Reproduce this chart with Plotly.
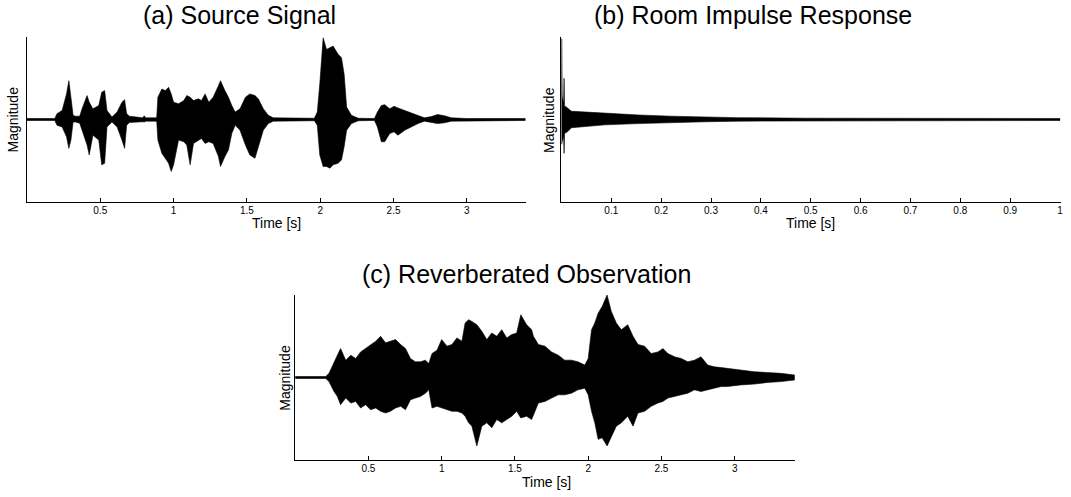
import plotly.graph_objects as go

# ---------------- data (envelopes) ----------------
# (a) Source signal: time [s], upper / lower envelope of the waveform
src_t = [0, 0.19, 0.205, 0.24, 0.27, 0.286, 0.30, 0.315, 0.33, 0.36, 0.376, 0.41, 0.425, 0.45,
         0.49, 0.51, 0.53, 0.546, 0.58, 0.615, 0.648, 0.666, 0.68, 0.70, 0.79, 0.80, 0.81, 0.885,
         0.893, 0.92, 0.943, 0.966, 0.984, 1.0, 1.034, 1.07, 1.09, 1.113, 1.136, 1.17, 1.19, 1.215,
         1.24, 1.27, 1.306, 1.32, 1.35, 1.374, 1.397, 1.42, 1.453, 1.49, 1.52, 1.555, 1.578, 1.612,
         1.646, 1.68, 1.96, 1.98, 1.997, 2.02, 2.043, 2.066, 2.088, 2.122, 2.145, 2.163, 2.18, 2.213,
         2.26, 2.37, 2.39, 2.417, 2.44, 2.474, 2.503, 2.53, 2.576, 2.62, 2.667, 2.71, 2.758, 2.8,
         2.848, 2.894, 3.0, 3.4]
src_up = [0.012, 0.012, 0.07, 0.11, 0.31, 0.47, 0.27, 0.05, 0.04, 0.04, 0.13, 0.29, 0.21, 0.13,
          0.17, 0.33, 0.35, 0.11, 0.03, 0.09, 0.21, 0.24, 0.07, 0.04, 0.02, 0.045, 0.02, 0.02,
          0.27, 0.37, 0.35, 0.39, 0.31, 0.21, 0.19, 0.23, 0.29, 0.27, 0.23, 0.25, 0.23, 0.31,
          0.21, 0.27, 0.41, 0.47, 0.35, 0.27, 0.17, 0.09, 0.13, 0.27, 0.31, 0.29, 0.25, 0.13,
          0.05, 0.02, 0.015, 0.09, 0.43, 0.99, 0.85, 0.87, 0.89, 0.79, 0.75, 0.55, 0.15, 0.05,
          0.015, 0.012, 0.09, 0.17, 0.18, 0.13, 0.16, 0.14, 0.11, 0.08, 0.05, 0.02, 0.035, 0.06,
          0.045, 0.02, 0.012, 0.012]
src_lo = [-0.012, -0.012, -0.07, -0.09, -0.21, -0.35, -0.25, -0.03, -0.03, -0.045, -0.13, -0.31, -0.43, -0.19,
          -0.25, -0.55, -0.53, -0.09, -0.03, -0.09, -0.25, -0.35, -0.07, -0.035, -0.028, -0.03, -0.02, -0.02,
          -0.25, -0.41, -0.47, -0.53, -0.63, -0.55, -0.25, -0.27, -0.31, -0.55, -0.29, -0.25, -0.23, -0.29,
          -0.27, -0.29, -0.45, -0.57, -0.45, -0.37, -0.17, -0.07, -0.13, -0.31, -0.43, -0.47, -0.35, -0.13,
          -0.05, -0.02, -0.015, -0.07, -0.43, -0.57, -0.57, -0.59, -0.55, -0.53, -0.49, -0.33, -0.13, -0.05,
          -0.015, -0.012, -0.09, -0.27, -0.27, -0.17, -0.15, -0.19, -0.13, -0.09, -0.05, -0.02, -0.035, -0.05,
          -0.04, -0.02, -0.012, -0.012]

# (b) Room impulse response
rir_t = [0, 0.0005, 0.0015, 0.002, 0.0045, 0.0053, 0.0062, 0.008, 0.012, 0.017, 0.02, 0.05, 0.087,
         0.154, 0.22, 0.287, 0.354, 0.49, 0.6, 0.72, 1.0]
rir_up = [0.0, 0.98, 0.3, 0.26, 0.2, 0.5, 0.15, 0.16, 0.14, 0.12, 0.1, 0.09, 0.075,
          0.055, 0.04, 0.03, 0.022, 0.016, 0.014, 0.012, 0.012]
rir_lo = [0.0, -0.3, -0.26, -0.26, -0.2, -0.41, -0.18, -0.16, -0.15, -0.12, -0.1, -0.085, -0.065,
          -0.05, -0.037, -0.028, -0.02, -0.016, -0.014, -0.012, -0.012]

# (c) Reverberated observation
obs_t = [0, 0.209, 0.231, 0.265, 0.288, 0.31, 0.345, 0.38, 0.413, 0.447, 0.48, 0.515, 0.55, 0.583,
         0.617, 0.65, 0.685, 0.72, 0.753, 0.787, 0.82, 0.855, 0.889, 0.912, 0.934, 0.968, 1.0, 1.036,
         1.07, 1.104, 1.138, 1.16, 1.184, 1.206, 1.24, 1.274, 1.308, 1.342, 1.376, 1.41, 1.444, 1.478,
         1.512, 1.54, 1.58, 1.614, 1.626, 1.66, 1.705, 1.75, 1.796, 1.84, 1.886, 1.93, 1.977, 2.0,
         2.023, 2.045, 2.068, 2.095, 2.129, 2.158, 2.192, 2.226, 2.27, 2.306, 2.34, 2.385, 2.43, 2.476,
         2.51, 2.544, 2.59, 2.635, 2.68, 2.725, 2.77, 2.816, 2.86, 2.907, 2.95, 3.04, 3.133, 3.224,
         3.315, 3.41]
obs_up = [0.012, 0.012, 0.05, 0.17, 0.27, 0.35, 0.21, 0.27, 0.23, 0.31, 0.35, 0.40, 0.44, 0.50,
          0.42, 0.44, 0.46, 0.40, 0.35, 0.23, 0.19, 0.19, 0.21, 0.17, 0.29, 0.33, 0.46, 0.38,
          0.40, 0.48, 0.44, 0.66, 0.70, 0.68, 0.64, 0.56, 0.46, 0.54, 0.50, 0.58, 0.48, 0.52,
          0.54, 0.76, 0.64, 0.58, 0.50, 0.40, 0.38, 0.31, 0.27, 0.21, 0.21, 0.19, 0.15, 0.23,
          0.58, 0.66, 0.78, 0.86, 1.0, 0.80, 0.66, 0.58, 0.64, 0.50, 0.40, 0.38, 0.29, 0.31,
          0.35, 0.29, 0.25, 0.23, 0.19, 0.21, 0.25, 0.15, 0.13, 0.12, 0.11, 0.09, 0.07, 0.06,
          0.05, 0.03]
obs_lo = [-0.012, -0.012, -0.05, -0.17, -0.23, -0.33, -0.25, -0.31, -0.29, -0.37, -0.33, -0.39, -0.37, -0.41,
          -0.43, -0.41, -0.37, -0.35, -0.39, -0.27, -0.25, -0.23, -0.19, -0.15, -0.37, -0.35, -0.37, -0.39,
          -0.41, -0.41, -0.43, -0.47, -0.55, -0.59, -0.83, -0.59, -0.55, -0.61, -0.51, -0.55, -0.51, -0.47,
          -0.41, -0.49, -0.47, -0.51, -0.47, -0.31, -0.29, -0.25, -0.21, -0.21, -0.19, -0.15, -0.13, -0.21,
          -0.41, -0.55, -0.75, -0.73, -0.83, -0.71, -0.59, -0.55, -0.47, -0.59, -0.43, -0.41, -0.35, -0.31,
          -0.29, -0.25, -0.23, -0.21, -0.19, -0.15, -0.17, -0.15, -0.13, -0.11, -0.11, -0.09, -0.08, -0.06,
          -0.05, -0.03]

tick_ac = [0.5, 1, 1.5, 2, 2.5, 3]
tick_ac_text = ["0.5", "1", "1.5", "2", "2.5", "3"]
tick_b = [0.1, 0.2, 0.3, 0.4, 0.5, 0.6, 0.7, 0.8, 0.9, 1]
tick_b_text = ["0.1", "0.2", "0.3", "0.4", "0.5", "0.6", "0.7", "0.8", "0.9", "1"]

titles = ["(a) Source Signal", "(b) Room Impulse Response", "(c) Reverberated Observation"]

# ---------------- figure ----------------
W, H = 1071, 497
FONT = "Liberation Sans, Arial, Helvetica, sans-serif"


def px_x(v):
    return v / W


def px_y(v):
    return 1 - v / H


def env_trace(t, up, lo, xa, ya):
    xs = list(t) + list(reversed(t))
    ys = list(up) + list(reversed(lo))
    return go.Scatter(x=xs, y=ys, xaxis=xa, yaxis=ya, mode="lines", fill="toself",
                      fillcolor="black", line=dict(color="black", width=0.6),
                      hoverinfo="skip", showlegend=False)


fig = go.Figure()
fig.add_trace(env_trace(src_t, src_up, src_lo, "x", "y"))
fig.add_trace(env_trace(rir_t, rir_up, rir_lo, "x2", "y2"))
fig.add_trace(env_trace(obs_t, obs_up, obs_lo, "x3", "y3"))

xcommon = dict(showline=True, linecolor="black", linewidth=1, ticks="inside", ticklen=4,
               tickcolor="black", tickwidth=1, showgrid=False, zeroline=False,
               tickfont=dict(family=FONT, size=10, color="black"), ticklabelstandoff=-1)
ycommon = dict(showline=True, linecolor="black", linewidth=1, showticklabels=False,
               ticks="", showgrid=False, zeroline=False, range=[-1, 1])

fig.update_layout(
    width=W, height=H, margin=dict(l=0, r=0, t=0, b=0),
    paper_bgcolor="white", plot_bgcolor="white", showlegend=False,
    xaxis=dict(xcommon, domain=[px_x(27), px_x(527)], range=[0, 3.4], anchor="y",
               tickvals=tick_ac, ticktext=tick_ac_text),
    yaxis=dict(ycommon, domain=[px_y(202), px_y(37)], anchor="x"),
    xaxis2=dict(xcommon, domain=[px_x(563), px_x(1063.5)], range=[0, 1.001], anchor="y2",
                tickvals=tick_b, ticktext=tick_b_text),
    yaxis2=dict(ycommon, domain=[px_y(202), px_y(37)], anchor="x2"),
    xaxis3=dict(xcommon, domain=[px_x(296), px_x(797)], range=[0, 3.41], anchor="y3",
                tickvals=tick_ac, ticktext=tick_ac_text),
    yaxis3=dict(ycommon, domain=[px_y(460), px_y(295)], anchor="x3"),
)

ann = []
title_pos = [(240, 15), (755, 15), (528, 274)]
for txt, (x, y) in zip(titles, title_pos):
    ann.append(dict(text=txt, x=px_x(x), y=px_y(y), xref="paper", yref="paper",
                    xanchor="center", yanchor="middle", showarrow=False,
                    font=dict(family=FONT, size=25, color="black")))
for (x, y) in [(277, 223), (813, 223), (548, 482)]:
    ann.append(dict(text="Time [s]", x=px_x(x), y=px_y(y), xref="paper", yref="paper",
                    xanchor="center", yanchor="middle", showarrow=False,
                    font=dict(family=FONT, size=14, color="black")))
for (x, y) in [(14, 119.5), (551, 119.5), (285, 377.5)]:
    ann.append(dict(text="Magnitude", x=px_x(x), y=px_y(y), xref="paper", yref="paper",
                    xanchor="center", yanchor="middle", showarrow=False, textangle=-90,
                    font=dict(family=FONT, size=14, color="black")))
fig.update_layout(annotations=ann)

fig.write_html("out.html", config={"displayModeBar": False},
               post_script="document.body.style.margin='0';document.body.style.padding='0';")
